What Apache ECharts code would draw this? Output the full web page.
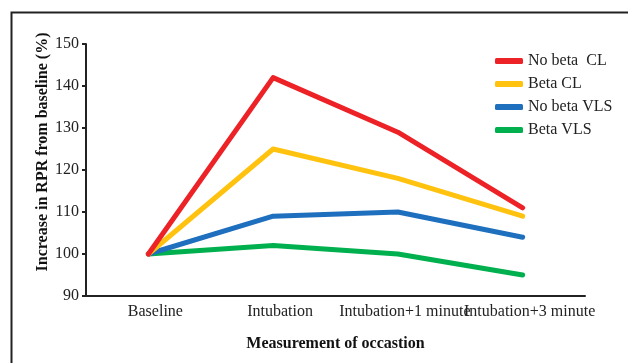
<!DOCTYPE html>
<html>
<head>
<meta charset="utf-8">
<script src="https://cdn.jsdelivr.net/npm/echarts@6/dist/echarts.min.js"></script>
<style>
html,body{margin:0;padding:0;background:#fff;}
#chart{width:628px;height:363px;}
</style>
</head>
<body>
<div id="chart"></div>
<script>
var categories = ['Baseline', 'Intubation', 'Intubation+1 minute', 'Intubation+3 minute'];
var seriesNames = ['No beta  CL', 'Beta CL', 'No beta VLS', 'Beta VLS'];
var noBetaCL = [100, 142, 129, 111];
var betaCL = [100, 125, 118, 109];
var noBetaVLS = [100, 109, 110, 104];
var betaVLS = [100, 102, 100, 95];
var yTicks = [90, 100, 110, 120, 130, 140, 150];
var colors = ['#ED2227', '#FFC20E', '#1F6FBF', '#00B04F'];

var font = '"Liberation Serif", "Times New Roman", serif';
var values = [noBetaCL, betaCL, noBetaVLS, betaVLS];

var chart = echarts.init(document.getElementById('chart'));
chart.setOption({
  animation: false,
  backgroundColor: '#fff',
  color: colors,
  textStyle: { fontFamily: font },
  grid: { left: 86, right: 43, top: 44, bottom: 67, containLabel: false },
  legend: {
    orient: 'vertical',
    left: 495,
    top: 53,
    padding: 0,
    itemWidth: 28,
    itemHeight: 6,
    itemGap: 7,
    icon: 'roundRect',
    data: seriesNames,
    textStyle: { fontFamily: font, fontSize: 16, color: '#222', lineHeight: 16 }
  },
  xAxis: {
    type: 'category',
    data: categories,
    boundaryGap: true,
    axisLine: { show: true, lineStyle: { color: '#222', width: 2 } },
    axisTick: { show: false },
    axisLabel: { fontFamily: font, fontSize: 16, color: '#222', margin: 8, interval: 0, padding: [0, 0, 0, 14] },
    name: 'Measurement of occastion',
    nameLocation: 'middle',
    nameGap: 40,
    nameTextStyle: { fontFamily: font, fontSize: 16, fontWeight: 'bold', color: '#111' }
  },
  yAxis: {
    type: 'value',
    min: yTicks[0],
    max: yTicks[yTicks.length - 1],
    interval: 10,
    axisLine: { show: true, lineStyle: { color: '#222', width: 2 } },
    axisTick: { show: true, length: 4, lineStyle: { color: '#222', width: 2 } },
    splitLine: { show: false },
    axisLabel: { fontFamily: font, fontSize: 16, color: '#222', margin: 7 }
  },
  graphic: [
    {
      type: 'rect',
      shape: { x: 11.5, y: 12.5, width: 700, height: 400 },
      style: { fill: 'none', stroke: '#222', lineWidth: 2 },
      silent: true
    },
    {
      type: 'text',
      x: 43,
      y: 152,
      rotation: Math.PI / 2,
      style: {
        text: 'Increase in RPR from baseline (%)',
        font: 'bold 16px ' + font,
        fill: '#111',
        align: 'center',
        verticalAlign: 'middle'
      }
    }
  ],
  series: seriesNames.map(function (n, i) {
    return {
      name: n,
      type: 'line',
      data: values[i],
      symbol: 'none',
      lineStyle: { width: 5, color: colors[i], cap: 'round', join: 'round' },
      itemStyle: { color: colors[i] },
      z: 10 - i
    };
  })
});
</script>
</body>
</html>
